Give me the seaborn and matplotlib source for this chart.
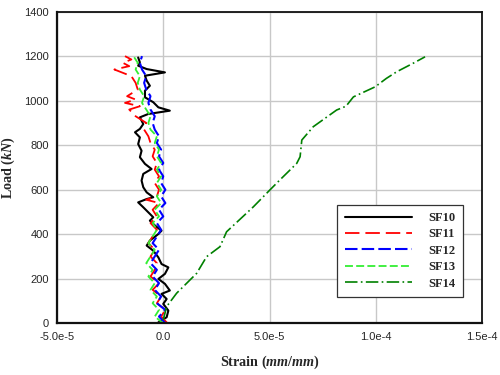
import numpy as np
import pandas as pd
import matplotlib
matplotlib.use("Agg")
import matplotlib.pyplot as plt
import seaborn as sns

# ---------------- data (strain in units of 1e-5 mm/mm, load in kN) ----------------
sf10_load = [4, 27, 57, 87, 109, 132, 147, 177, 199, 222, 251, 266, 296, 326, 349, 371, 401, 416,
             439, 461, 476, 499, 521, 543, 558, 566, 588, 611, 641, 671, 693, 716, 746, 775, 805,
             835, 858, 873, 895, 925, 940, 955, 970, 993, 1015, 1045, 1067, 1090, 1112, 1127,
             1142, 1157, 1172, 1194]
sf10_strain = [-0.23, 0.16, 0.24, 0.0, 0.16, -0.08, 0.31, 0.08, -0.23, 0.08, 0.24, -0.08, -0.23,
               -0.47, -0.78, -0.63, -0.23, -0.08, -0.39, -0.63, -0.47, -0.71, -0.94, -1.18, -0.78,
               -0.47, -0.78, -0.94, -1.02, -0.94, -0.55, -0.86, -1.10, -1.02, -1.18, -1.10, -1.33,
               -1.10, -0.94, -1.10, -0.71, 0.31, -0.23, -0.47, -0.86, -0.86, -0.63, -0.78, -0.86,
               0.08, -0.78, -1.18, -1.10, -1.18]

sf11_load = [0, 30, 60, 90, 120, 150, 180, 210, 240, 270, 300, 330, 360, 390, 420, 450, 480, 510,
             540, 555, 570, 600, 630, 660, 690, 720, 750, 780, 810, 840, 870, 900, 930, 960, 975,
             990, 1005, 1020, 1050, 1080, 1110, 1125, 1140, 1155, 1170, 1185, 1200]
sf11_strain = [0.2, -0.1, 0.1, -0.3, -0.1, -0.5, -0.2, -0.6, -0.4, -0.3, -0.6, -0.4, -0.7, -0.5,
               -0.3, -0.6, -0.3, -0.5, -0.2, -0.8, -0.3, -0.2, -0.4, -0.2, -0.4, -0.3, -0.5, -0.4,
               -0.6, -0.7, -0.9, -0.8, -1.3, -1.6, -1.1, -1.8, -1.3, -1.7, -1.2, -1.3, -1.5, -1.9,
               -2.3, -1.6, -1.9, -1.5, -1.8]

sf12_load = [0, 30, 60, 90, 120, 150, 180, 210, 240, 270, 300, 330, 360, 390, 420, 450, 480, 510,
             540, 570, 600, 630, 660, 690, 720, 750, 780, 810, 840, 870, 900, 930, 960, 990, 1020,
             1050, 1080, 1110, 1140, 1170, 1200]
sf12_strain = [0.1, -0.2, 0.1, -0.3, -0.1, -0.4, -0.2, -0.5, -0.3, -0.6, -0.4, -0.2, -0.5, -0.3,
               -0.1, -0.3, 0.0, -0.2, 0.1, -0.1, 0.1, -0.1, 0.0, -0.2, 0.0, -0.2, -0.1, -0.3, -0.2,
               -0.4, -0.5, -0.4, -0.6, -0.7, -0.6, -0.8, -0.9, -0.8, -1.0, -1.1, -1.0]

sf13_load = [0, 30, 60, 90, 120, 150, 180, 210, 240, 270, 300, 330, 360, 390, 420, 450, 480, 510,
             540, 570, 600, 630, 660, 690, 720, 750, 780, 810, 840, 870, 900, 930, 960, 990, 1020,
             1050, 1080, 1110, 1140, 1170, 1200]
sf13_strain = [0.0, -0.4, -0.2, -0.5, -0.3, -0.6, -0.4, -0.7, -0.5, -0.8, -0.6, -0.4, -0.7, -0.5,
               -0.3, -0.5, -0.2, -0.4, -0.1, -0.3, -0.1, -0.3, -0.1, -0.3, -0.1, -0.3, -0.2, -0.4,
               -0.3, -0.6, -0.7, -0.6, -0.8, -1.0, -0.9, -1.1, -1.2, -1.1, -1.3, -1.2, -1.4]

sf14_load = [15, 75, 135, 224, 299, 344, 411, 523, 599, 644, 718, 748, 823, 883, 958, 975, 1017,
             1062, 1100, 1130, 1170, 1197]
sf14_strain = [0.0, 0.16, 0.63, 1.57, 2.04, 2.67, 2.98, 4.24, 5.02, 5.49, 6.28, 6.44, 6.52, 7.06,
               8.16, 8.6, 8.95, 9.97, 10.5, 10.99, 11.8, 12.32]

series_names = ["SF10", "SF11", "SF12", "SF13", "SF14"]
xtick_vals = [-5e-5, 0.0, 5e-5, 1e-4, 1.5e-4]
xtick_labels = ["-5.0e-5", "0.0", "5.0e-5", "1.0e-4", "1.5e-4"]
ytick_vals = [0, 200, 400, 600, 800, 1000, 1200, 1400]

STRAIN_UNIT = 1e-5

# ---------------- style ----------------
sns.set_style("white")
plt.rcParams["font.family"] = ["Liberation Sans", "DejaVu Sans"]
plt.rcParams["mathtext.fontset"] = "custom"
plt.rcParams["mathtext.it"] = "Liberation Serif:italic:bold"
plt.rcParams["mathtext.rm"] = "Liberation Serif:bold"

fig = plt.figure(figsize=(5, 3.75), dpi=100)
ax = fig.add_axes([0.114, 0.138, 0.85, 0.831])

colors = ["#000000", "#ff0000", "#0000ff", "#33ee33", "#008000"]
styles = ["-", (0, (8, 3.3)), (0, (6, 2)), (0, (4.4, 1.8)), (0, (7.5, 2, 1, 2))]
widths = [1.5, 1.3, 1.5, 1.3, 1.2]
data = [(sf10_strain, sf10_load), (sf11_strain, sf11_load), (sf12_strain, sf12_load),
        (sf13_strain, sf13_load), (sf14_strain, sf14_load)]

for name, (s, l), c, ls, lw in zip(series_names, data, colors, styles, widths):
    df = pd.DataFrame({"strain": np.array(s) * STRAIN_UNIT, "load": l})
    sns.lineplot(data=df, x="strain", y="load", sort=False, estimator=None, ax=ax,
                 color=c, linestyle=ls, linewidth=lw, label=name)

ax.set_xlim(-5e-5, 1.5e-4)
ax.set_ylim(0, 1400)
ax.set_xticks(xtick_vals)
ax.set_xticklabels(xtick_labels)
ax.set_yticks(ytick_vals)
ax.grid(True, color="#c8c8c8", linewidth=1.0)
ax.set_axisbelow(True)
ax.tick_params(axis="both", labelsize=8, direction="in", length=4, color="#555555", pad=6)
for sp in ["left", "bottom"]:
    ax.spines[sp].set_linewidth(1.6)
    ax.spines[sp].set_color("#111111")
for sp in ["top", "right"]:
    ax.spines[sp].set_linewidth(1.3)
    ax.spines[sp].set_color("#111111")

ax.set_xlabel("Strain ($mm/mm$)", fontfamily="Liberation Serif", fontweight="bold",
              fontsize=10.2, labelpad=9)
ax.set_ylabel("Load ($kN$)", fontfamily="Liberation Serif", fontweight="bold",
              fontsize=10.2)
ax.yaxis.set_label_coords(-0.094, 0.5)

leg = ax.legend(loc="lower left", bbox_to_anchor=(0.659, 0.084), frameon=True, fancybox=False,
                edgecolor="#333333", framealpha=1, borderaxespad=0,
                prop={"family": "Liberation Serif", "weight": "bold", "size": 9},
                handlelength=5.4, handletextpad=1.3, labelspacing=0.35, borderpad=0.6)
leg.get_frame().set_linewidth(0.9)

fig.savefig("out.png", dpi=100)
